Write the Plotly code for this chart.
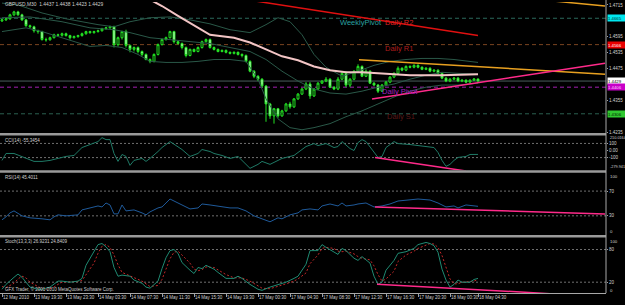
import plotly.graph_objects as go

# ---------------- data ----------------
bars = list(range(120))
opens = [1.4655,1.4659,1.4663,1.4678,1.4689,1.4678,1.4659,1.4637,1.4633,1.4618,
         1.4615,1.4585,1.4584,1.4592,1.4603,1.4601,1.4607,1.4600,1.4592,1.4596,
         1.4600,1.4607,1.4615,1.4611,1.4615,1.4618,1.4626,1.4629,1.4633,1.4566,
         1.4592,1.4615,1.4563,1.4548,1.4555,1.4540,1.4529,1.4510,1.4503,1.4529,
         1.4566,1.4585,1.4592,1.4615,1.4577,1.4570,1.4555,1.4525,1.4548,1.4540,
         1.4555,1.4577,1.4585,1.4555,1.4548,1.4540,1.4544,1.4537,1.4533,1.4537,
         1.4529,1.4525,1.4503,1.4466,1.4447,1.4436,1.4410,1.4343,1.4298,1.4325,
         1.4298,1.4317,1.4343,1.4332,1.4362,1.4380,1.4399,1.4418,1.4373,1.4399,
         1.4421,1.4429,1.4436,1.4406,1.4399,1.4436,1.4458,1.4414,1.4436,1.4466,
         1.4484,1.4447,1.4466,1.4421,1.4414,1.4391,1.4414,1.4425,1.4444,1.4458,
         1.4477,1.4470,1.4484,1.4481,1.4488,1.4481,1.4473,1.4477,1.4466,1.4470,
         1.4458,1.4440,1.4429,1.4436,1.4440,1.4429,1.4432,1.4425,1.4432,1.4437]
closes = [1.4659,1.4663,1.4678,1.4689,1.4678,1.4659,1.4637,1.4633,1.4618,1.4615,
          1.4585,1.4584,1.4592,1.4603,1.4601,1.4607,1.4600,1.4592,1.4596,1.4600,
          1.4607,1.4615,1.4611,1.4615,1.4618,1.4626,1.4629,1.4633,1.4566,1.4592,
          1.4615,1.4563,1.4548,1.4555,1.4540,1.4529,1.4510,1.4503,1.4529,1.4566,
          1.4585,1.4592,1.4615,1.4577,1.4570,1.4555,1.4525,1.4548,1.4540,1.4555,
          1.4577,1.4585,1.4555,1.4548,1.4540,1.4544,1.4537,1.4533,1.4537,1.4529,
          1.4525,1.4503,1.4466,1.4447,1.4436,1.4410,1.4343,1.4298,1.4325,1.4298,
          1.4317,1.4343,1.4332,1.4362,1.4380,1.4399,1.4418,1.4373,1.4399,1.4421,
          1.4429,1.4436,1.4406,1.4399,1.4436,1.4458,1.4414,1.4436,1.4466,1.4484,
          1.4447,1.4466,1.4421,1.4414,1.4391,1.4414,1.4425,1.4444,1.4458,1.4477,
          1.4470,1.4484,1.4481,1.4488,1.4481,1.4473,1.4477,1.4466,1.4470,1.4458,
          1.4440,1.4429,1.4436,1.4440,1.4429,1.4432,1.4425,1.4432,1.4437,1.4429]
highs = [1.4663,1.4667,1.4682,1.4693,1.4693,1.4682,1.4663,1.4641,1.4637,1.4622,
         1.4618,1.4592,1.4596,1.4607,1.4607,1.4611,1.4611,1.4603,1.4600,1.4603,
         1.4611,1.4618,1.4618,1.4618,1.4622,1.4629,1.4633,1.4637,1.4637,1.4596,
         1.4618,1.4622,1.4566,1.4559,1.4559,1.4544,1.4533,1.4514,1.4533,1.4570,
         1.4589,1.4596,1.4618,1.4618,1.4581,1.4574,1.4559,1.4551,1.4551,1.4559,
         1.4581,1.4589,1.4589,1.4559,1.4551,1.4548,1.4548,1.4540,1.4540,1.4540,
         1.4533,1.4529,1.4507,1.4470,1.4451,1.4440,1.4414,1.4347,1.4328,1.4328,
         1.4321,1.4347,1.4351,1.4365,1.4384,1.4403,1.4425,1.4425,1.4403,1.4425,
         1.4432,1.4444,1.4440,1.4410,1.4444,1.4466,1.4466,1.4440,1.4470,1.4492,
         1.4488,1.4473,1.4470,1.4425,1.4418,1.4418,1.4429,1.4447,1.4462,1.4484,
         1.4481,1.4488,1.4488,1.4492,1.4492,1.4484,1.4481,1.4481,1.4473,1.4473,
         1.4462,1.4444,1.4440,1.4444,1.4444,1.4436,1.4436,1.4436,1.4440,1.4438]
lows = [1.4651,1.4655,1.4659,1.4674,1.4674,1.4655,1.4633,1.4629,1.4611,1.4607,
        1.4581,1.4577,1.4581,1.4589,1.4596,1.4596,1.4596,1.4585,1.4589,1.4592,
        1.4596,1.4603,1.4607,1.4607,1.4611,1.4615,1.4622,1.4626,1.4555,1.4559,
        1.4585,1.4555,1.4537,1.4540,1.4533,1.4522,1.4507,1.4496,1.4499,1.4525,
        1.4563,1.4581,1.4589,1.4570,1.4566,1.4548,1.4518,1.4522,1.4537,1.4537,
        1.4551,1.4574,1.4551,1.4544,1.4537,1.4537,1.4533,1.4529,1.4529,1.4525,
        1.4518,1.4499,1.4462,1.4440,1.4429,1.4403,1.4276,1.4287,1.4269,1.4291,
        1.4295,1.4313,1.4325,1.4328,1.4358,1.4377,1.4395,1.4362,1.4369,1.4395,
        1.4418,1.4425,1.4403,1.4395,1.4395,1.4432,1.4406,1.4406,1.4432,1.4462,
        1.4444,1.4444,1.4418,1.4410,1.4384,1.4388,1.4410,1.4421,1.4440,1.4455,
        1.4466,1.4466,1.4477,1.4477,1.4477,1.4470,1.4470,1.4462,1.4462,1.4455,
        1.4436,1.4425,1.4425,1.4432,1.4425,1.4425,1.4421,1.4421,1.4429,1.4423]

bb_up_bars = [0,4,10,16,24,28,32,37,42,47,52,57,62,66,69,72,75,78,81,85,89,93,97,101,105,109,113,119]
bb_up = [1.4722,1.4715,1.4685,1.4663,1.4641,1.4633,1.4652,1.4667,1.4670,1.4659,
         1.4644,1.4622,1.4611,1.4641,1.4667,1.4652,1.4603,1.4529,1.4481,1.4447,
         1.4466,1.4488,1.4503,1.4510,1.4514,1.4514,1.4510,1.4499]
bb_mid_bars = [0,7,15,22,28,32,37,42,47,52,57,62,66,70,74,78,82,86,90,94,98,102,106,110,114,119]
bb_mid = [1.4667,1.4670,1.4652,1.4629,1.4622,1.4611,1.4592,1.4585,1.4577,1.4570,
          1.4555,1.4540,1.4510,1.4466,1.4429,1.4399,1.4384,1.4380,1.4391,1.4406,
          1.4418,1.4436,1.4451,1.4462,1.4458,1.4455]
bb_lo_bars = [0,3,6,10,14,18,22,26,30,34,37,41,45,49,53,57,61,64,66,69,72,75,78,82,86,90,94,98,102,106,110,114,119]
bb_lo = [1.4615,1.4622,1.4629,1.4615,1.4596,1.4577,1.4559,1.4563,1.4555,1.4529,
         1.4503,1.4499,1.4499,1.4503,1.4510,1.4510,1.4503,1.4436,1.4362,1.4287,
         1.4254,1.4246,1.4254,1.4269,1.4295,1.4317,1.4343,1.4369,1.4391,1.4406,
         1.4414,1.4414,1.4421]
ma_bars = [37,40,44,48,52,58,62,66,70,74,78,82,86,90,94,98,102,110,119]
ma_vals = [1.4735,1.4711,1.4674,1.4637,1.4603,1.4592,1.4574,1.4548,1.4522,1.4507,
           1.4484,1.4470,1.4462,1.4462,1.4458,1.4455,1.4451,1.4451,1.4455]

# trend lines (bar, value) anchors
red_tl = ([63.25, 119], [1.4730, 1.4600])
orange_top_tl = ([137.75, 150.75], [1.4730, 1.4711])
orange_mid_tl = ([89.25, 150.75], [1.4509, 1.4455])
pink_tl = ([92.5, 150.75], [1.4362, 1.4496])
cci_tl = ([93.25, 116], [-98, -290])
rsi_tl = ([93.25, 150.75], [44.4, 33.2])
stoch_tl = ([93.75, 137], [16.4, -1])

weekly_pivot = 1.4665
daily_r1 = 1.4566
daily_pivot = 1.4406
daily_s1 = 1.4306
bid = 1.4429
top_level = 1.4730

cci_bars = [0,1,3,5,7,8,10,12,14,16,18,19,20,22,24,25,26,27,28,29,30,31,32,33,35,36,37,39,40,42,
            44,45,47,49,50,52,53,55,57,59,60,62,64,65,67,69,70,73,74,76,78,79,81,83,84,85,87,88,89,90,
            91,92,93,94,95,96,98,99,102,104,107,108,109,110,111,112,113,114,116,117,119]
cci_vals = [-140,-42,-42,-84,-126,-154,-154,-140,-112,-84,-70,-14,42,84,126,182,154,154,-42,-154,
            -56,-84,-210,-140,-112,-154,-112,-14,42,126,56,14,-84,-42,14,-14,-42,-70,-112,-84,
            -140,-252,-196,-154,-196,-140,-112,-70,-28,56,98,70,98,42,56,126,28,0,112,154,
            126,56,-14,-98,-84,42,126,98,84,70,56,42,-28,-140,-224,-196,-140,-98,-84,-56,-55.3454]

rsi_bars = [0,1,2,3,5,7,10,12,13,14,16,19,20,22,24,25,26,27,28,29,30,31,33,35,36,37,39,40,42,44,
            45,47,49,50,52,54,57,59,61,63,65,67,69,70,72,74,75,77,79,80,82,83,84,85,86,88,89,91,92,93,
            95,97,99,102,104,107,109,111,113,114,116,119]
rsi_vals = [23.6,28.4,34.8,38,30,26.8,25.2,23.6,28.4,31.6,30,31.6,39.6,42.8,46,44.4,50.8,47.6,33.2,33.2,
            47.6,38,39.6,34.8,31.6,36.4,42.8,44.4,57.2,50.8,47.6,41.2,42.8,49.2,47.6,46,42.8,42.8,38,30,
            25.2,20.4,26.8,25.2,31.6,34.8,39.6,41.2,39.6,46,49.2,47.6,46,50.8,46,47.6,49.2,50.8,47.6,44.4,
            46,49.2,54,55.6,57.2,55.6,50.8,44.4,46,42.8,47.6,45.4011]

st_bars = [0,1,3,4,5,6,7,9,10,12,13,14,15,17,19,20,21,23,24,25,26,27,28,29,30,32,33,35,36,37,
           39,40,41,42,43,44,45,47,48,49,50,51,53,54,56,58,59,60,62,64,65,67,69,71,73,74,76,77,79,80,
           81,83,84,85,86,88,89,90,92,93,94,95,96,98,99,101,103,104,106,107,108,109,110,111,112,113,114,115,117,118,119]
st_main = [7,16,29,35,29,20,11,7,7,11,16,22,22,20,22,27,51,78,89,91,85,76,47,31,33,31,24,18,11,9,
           22,45,65,78,80,73,56,42,36,47,45,51,44,38,27,27,31,27,16,7,5,11,16,20,27,31,53,78,78,89,
           84,76,71,82,78,64,60,67,55,31,16,20,42,60,73,76,82,89,93,91,87,75,44,24,11,16,24,20,20,25,26.9231]
st_signal = [12,10,18,26,31,28,20,11,8,8,11,16,20,21,21,23,34,55,73,86,89,84,70,52,38,32,29,22,17,12,
             14,25,44,63,75,77,70,55,44,41,43,48,47,43,34,28,28,28,22,13,9,8,12,17,22,26,37,54,70,82,
             84,82,77,76,77,72,67,64,61,50,34,22,26,40,58,70,77,82,88,91,90,84,69,48,26,17,17,20,21,22,24.8409]

price_ticks = [1.4715, 1.4595, 1.4535, 1.4475, 1.4355, 1.4235]
time_tick_bars = [0, 8, 16, 24, 32, 40, 48, 56, 64, 72, 80, 88, 96, 104, 112, 119]
time_labels = ["12 May 2010", "13 May 19:30", "13 May 23:30", "14 May 03:30", "14 May 07:30",
               "14 May 11:30", "14 May 15:30", "14 May 19:30", "17 May 00:30", "17 May 04:30",
               "17 May 08:30", "17 May 12:30", "17 May 16:30", "17 May 20:30", "18 May 00:30",
               "18 May 04:30"]

# ---------------- layout helpers ----------------
W, H = 625, 305
XR = 606
FONT = "Liberation Sans"
TXT = "#d0d0d0"
FS = 4.5


def py(p):
    return 1 - p / H


def pxx(p):
    return p / W


fig = go.Figure()

bb_col = "#2a5848"
fig.add_trace(go.Scatter(x=bb_up_bars, y=bb_up, mode="lines", line=dict(color=bb_col, width=1), yaxis="y"))
fig.add_trace(go.Scatter(x=bb_mid_bars, y=bb_mid, mode="lines", line=dict(color=bb_col, width=1), yaxis="y"))
fig.add_trace(go.Scatter(x=bb_lo_bars, y=bb_lo, mode="lines", line=dict(color=bb_col, width=1), yaxis="y"))
fig.add_trace(go.Scatter(x=ma_bars, y=ma_vals, mode="lines", line=dict(color="#f2c4c4", width=2), yaxis="y"))

fig.add_trace(go.Scatter(x=red_tl[0], y=red_tl[1], mode="lines", line=dict(color="#e01010", width=1.5), yaxis="y"))
fig.add_trace(go.Scatter(x=orange_top_tl[0], y=orange_top_tl[1], mode="lines", line=dict(color="#e8a020", width=1.5), yaxis="y"))
fig.add_trace(go.Scatter(x=orange_mid_tl[0], y=orange_mid_tl[1], mode="lines", line=dict(color="#e8a020", width=1.5), yaxis="y"))
fig.add_trace(go.Scatter(x=pink_tl[0], y=pink_tl[1], mode="lines", line=dict(color="#ff2a8a", width=1.5), yaxis="y"))

fig.add_trace(go.Candlestick(
    x=bars, open=opens, high=highs, low=lows, close=closes,
    increasing=dict(line=dict(color="#22e022", width=1), fillcolor="#000000"),
    decreasing=dict(line=dict(color="#22e022", width=1), fillcolor="#d8ffd8"),
    whiskerwidth=0, yaxis="y"))

fig.add_trace(go.Scatter(x=cci_bars, y=cci_vals, mode="lines", line=dict(color="#1f7a66", width=1), yaxis="y2"))
fig.add_trace(go.Scatter(x=cci_tl[0], y=cci_tl[1], mode="lines", line=dict(color="#ff2a8a", width=1.5), yaxis="y2"))

fig.add_trace(go.Scatter(x=rsi_bars, y=rsi_vals, mode="lines", line=dict(color="#1f5a9a", width=1), yaxis="y3"))
fig.add_trace(go.Scatter(x=rsi_tl[0], y=rsi_tl[1], mode="lines", line=dict(color="#ff2a8a", width=1.5), yaxis="y3"))

fig.add_trace(go.Scatter(x=st_bars, y=st_signal, mode="lines", line=dict(color="#c02828", width=1, dash="2px,2px"), yaxis="y4"))
fig.add_trace(go.Scatter(x=st_bars, y=st_main, mode="lines", line=dict(color="#1f8a72", width=1), yaxis="y4"))
fig.add_trace(go.Scatter(x=stoch_tl[0], y=stoch_tl[1], mode="lines", line=dict(color="#ff2a8a", width=1.5), yaxis="y4"))

shapes = []


def hline(yv, yref, color, dash="solid", width=1, x0=0.0):
    shapes.append(dict(type="line", xref="paper", yref=yref, x0=x0, x1=pxx(XR), y0=yv, y1=yv,
                       line=dict(color=color, width=width, dash=dash), layer="below"))


hline(weekly_pivot, "y", "#2b6a5c", "4px,3px")
hline(daily_r1, "y", "#7a4420", "4px,3px")
hline(daily_pivot, "y", "#a020b0", "4px,3px")
hline(daily_s1, "y", "#2b5f50", "4px,3px")
hline(bid, "y", "#4a5e5c", "solid")
hline(top_level, "y", "#8a8a8a", "solid", 1.5, x0=pxx(202))
hline(100, "y2", "#707070", "2px,2px")
hline(-100, "y2", "#707070", "2px,2px")
hline(70, "y3", "#707070", "2px,2px")
hline(30, "y3", "#707070", "2px,2px")
hline(80, "y4", "#707070", "2px,2px")
hline(20, "y4", "#707070", "2px,2px")

for ypix in (135.5, 173.3, 238.5):
    shapes.append(dict(type="line", xref="paper", yref="paper", x0=0, x1=pxx(XR), y0=py(ypix), y1=py(ypix),
                       line=dict(color="#9a9a9a", width=2.5)))
shapes.append(dict(type="line", xref="paper", yref="paper", x0=pxx(XR), x1=pxx(XR), y0=py(296), y1=1,
                   line=dict(color="#a8a8a8", width=1)))

annotations = []


def ptext(text, xp, yp, size=FS, color=TXT):
    annotations.append(dict(text=text, x=pxx(xp), y=py(yp), xref="paper", yref="paper",
                            xanchor="left", yanchor="middle", showarrow=False,
                            font=dict(family=FONT, size=size, color=color)))


ptext("GBPUSD,M30  1.4437 1.4438 1.4423 1.4429", 3, 5, 4.9)
ptext("CCI(14) -55.3454", 3, 142)
ptext("RSI(14) 45.4011", 3, 179)
ptext("Stoch(13,3,3) 26.9231 24.8409", 3, 244)
ptext("GFX Trader, \u00a9 2001-2010 MetaQuotes Software Corp.", 3, 292)

# edge labels of indicator windows
for t, yp, fs in (("210.0164", 139, 3.8), ("-279.941", 169, 3.8), ("100", 178, 4.3), ("0", 234, 4.3),
                  ("100", 244, 4.3), ("0", 293, 4.3)):
    ptext(t, 607.5, yp, fs)


def dtext(text, xb, yv, color):
    annotations.append(dict(text=text, x=xb, y=yv, xref="x", yref="y", xanchor="left", yanchor="middle",
                            showarrow=False, font=dict(family=FONT, size=7.5, color=color)))


dtext("WeeklyPivot", 84, 1.4648, "#2aa0a0")
dtext("Daily R2", 95.25, 1.4648, "#dd2020")
dtext("Daily R1", 95.25, 1.4550, "#b01c1c")
dtext("Daily Pivot", 94.5, 1.4391, "#a020c0")
dtext("Daily S1", 95.75, 1.4295, "#5a1818")

for val, bg, fg in ((weekly_pivot, "#00e8f0", "#003030"), (daily_r1, "#e80000", "#ffffff"),
                    (bid, "#ffffff", "#000000"), (daily_pivot, "#c800c8", "#ffd0ff"),
                    (daily_s1, "#30c830", "#002000")):
    annotations.append(dict(text=f"{val:.4f}", x=pxx(607), y=val, xref="paper", yref="y",
                            xanchor="left", yanchor="middle", showarrow=False, bgcolor=bg,
                            width=17, height=6, borderpad=0, align="left",
                            font=dict(family=FONT, size=4.3, color=fg)))

yax_common = dict(side="right", anchor="x", showgrid=False, zeroline=False, ticks="outside", ticklen=1,
                  tickcolor="#a0a0a0", tickfont=dict(family=FONT, size=FS, color=TXT), showline=False)

fig.update_layout(
    width=W, height=H, margin=dict(l=0, r=0, t=0, b=0),
    paper_bgcolor="#000000", plot_bgcolor="#000000", showlegend=False,
    shapes=shapes, annotations=annotations,
    xaxis=dict(domain=[0, pxx(XR)], range=[-0.5, 151], anchor="y4", showgrid=False, zeroline=False,
               tickmode="array", tickvals=time_tick_bars, ticktext=time_labels, ticks="outside", ticklen=3,
               tickcolor="#a0a0a0", ticklabelposition="outside right", tickangle=0,
               tickfont=dict(family=FONT, size=FS, color=TXT), showline=True, linecolor="#a8a8a8",
               linewidth=1, rangeslider=dict(visible=False)),
    yaxis=dict(domain=[py(134), py(2)], range=[1.4235, 1.47262], tickmode="array", tickvals=price_ticks,
               tickformat=".4f", **yax_common),
    yaxis2=dict(domain=[py(172), py(137)], range=[-279.941, 210.0164], tickmode="array",
                tickvals=[100, 0, -100], ticktext=["100", "0.00", "-100"], **yax_common),
    yaxis3=dict(domain=[py(236.75), py(174.25)], range=[0, 100], tickmode="array", tickvals=[70, 30],
                **yax_common),
    yaxis4=dict(domain=[py(296), py(241)], range=[0, 100], tickmode="array", tickvals=[80, 20],
                **yax_common),
)

fig.write_html("out.html")
